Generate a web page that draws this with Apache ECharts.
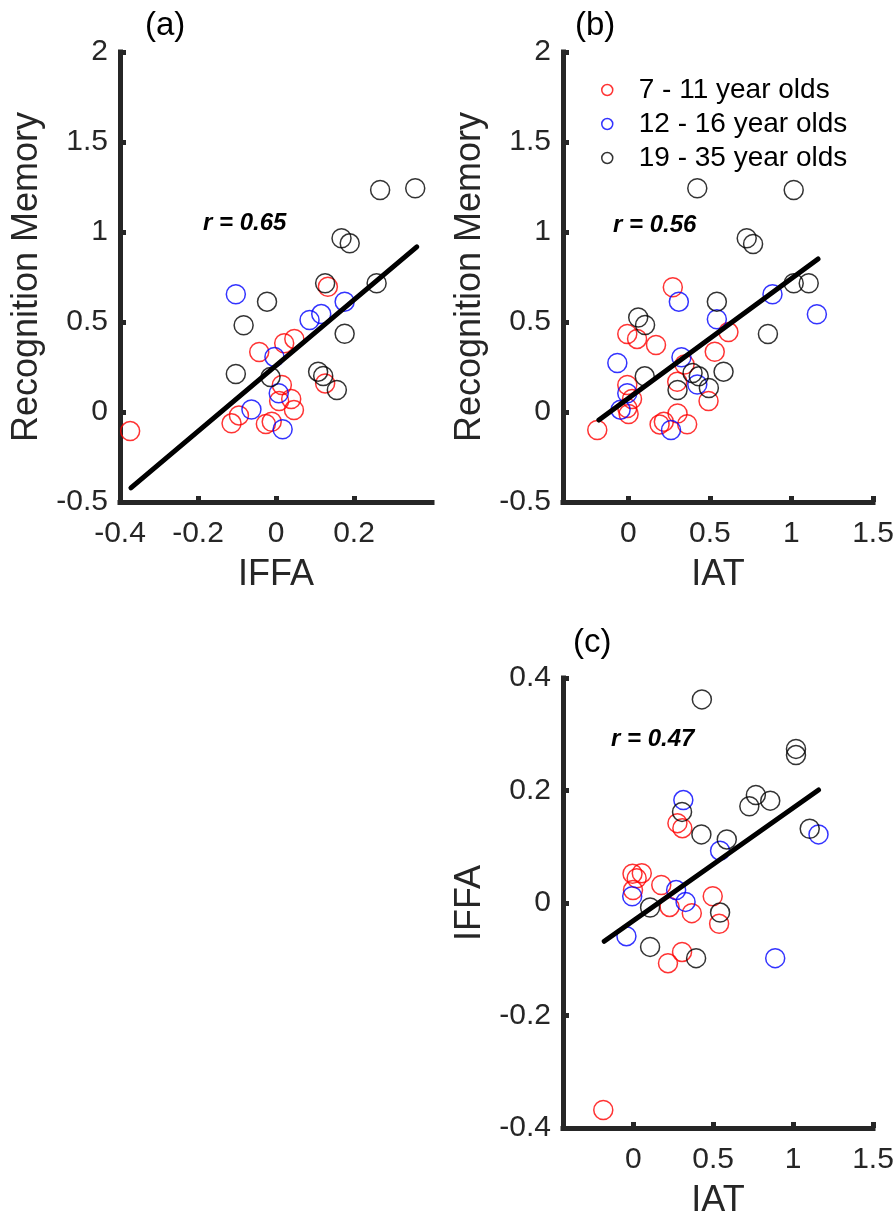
<!DOCTYPE html>
<html>
<head>
<meta charset="utf-8">
<title>Recognition memory vs IFFA / IAT</title>
<script src="https://cdn.jsdelivr.net/npm/echarts@6/dist/echarts.min.js"></script>
<style>
  html, body { margin: 0; padding: 0; background: #fff; }
  #main { width: 895px; height: 1214px; }
</style>
</head>
<body>
<div id="main"></div>
<script>
// 各年龄组的数据点 [x, y]
// (a) IFFA - Recognition Memory
var redA = [[-0.374,-0.106],[-0.114,-0.063],[-0.095,-0.019],[-0.043,0.333],[-0.026,-0.067],[-0.011,-0.054],[0.015,0.150],[0.008,0.061],[0.039,0.072],[0.046,0.011],[0.021,0.382],[0.047,0.406],[0.133,0.696],[0.126,0.159]]
var blueA = [[-0.103,0.654],[0.086,0.511],[0.116,0.544],[0.176,0.613],[-0.004,0.306],[0.007,0.104],[-0.063,0.014],[0.017,-0.096]]
var blackA = [[0.267,1.233],[0.357,1.243],[0.168,0.965],[0.189,0.937],[0.126,0.715],[0.258,0.715],[-0.023,0.613],[-0.083,0.482],[0.176,0.435],[-0.103,0.211],[-0.014,0.194],[0.108,0.224],[0.121,0.200],[0.156,0.122]]
var fitA = [[-0.372,-0.422],[0.361,0.917]]

// (b) IAT - Recognition Memory
var redB = [[0.273,0.693],[-0.006,0.433],[0.054,0.406],[0.170,0.372],[0.614,0.444],[0.530,0.335],[0.345,0.264],[0.300,0.168],[-0.006,0.150],[0.023,0.072],[-0.006,0.022],[0.002,-0.011],[0.492,0.061],[-0.190,-0.100],[0.218,-0.054],[0.192,-0.069],[0.302,-0.008],[0.361,-0.068]]
var blueB = [[-0.067,0.272],[0.310,0.613],[0.543,0.515],[0.326,0.304],[-0.006,0.104],[-0.047,0.013],[0.423,0.153],[0.262,-0.100],[0.884,0.654],[1.156,0.543]]
var blackB = [[0.423,1.243],[1.014,1.233],[0.726,0.965],[0.765,0.933],[1.014,0.715],[1.106,0.715],[0.543,0.613],[0.061,0.525],[0.103,0.483],[0.101,0.198],[0.394,0.217],[0.432,0.198],[0.584,0.224],[0.302,0.122],[0.494,0.133],[0.856,0.433]]
var fitB = [[-0.180,-0.045],[1.163,0.850]]

// (c) IAT - IFFA
var redC = [[0.276,0.142],[0.307,0.133],[-0.005,0.052],[0.053,0.053],[0.021,0.044],[-0.002,0.023],[0.175,0.032],[0.227,-0.007],[0.366,-0.018],[0.497,0.012],[0.537,-0.037],[0.305,-0.087],[0.217,-0.107],[-0.188,-0.368]]
var blueC = [[0.313,0.183],[0.543,0.093],[1.159,0.122],[-0.007,0.012],[0.268,0.023],[0.327,0.002],[-0.043,-0.059],[0.888,-0.098]]
var blackC = [[0.429,0.362],[1.018,0.274],[1.018,0.263],[0.767,0.192],[0.726,0.172],[0.857,0.182],[0.305,0.162],[0.426,0.122],[0.585,0.113],[1.104,0.132],[0.105,-0.008],[0.543,-0.017],[0.105,-0.078],[0.393,-0.098]]
var fitC = [[-0.182,-0.068],[1.159,0.201]]

var groupNames = ['7 - 11 year olds', '12 - 16 year olds', '19 - 35 year olds']
var groupColors = ['#ff0000', '#0000ff', '#000000']
var rLabels = ['r = 0.65', 'r = 0.56', 'r = 0.47']
var iffaTicks = [-0.4, -0.2, 0, 0.2]
var iatTicks = [0, 0.5, 1, 1.5]

var font = 'Liberation Sans, Arial, Helvetica, sans-serif'
var axisColor = '#262626'

function axisStyle(name, gap, labelMargin) {
    return {
        type: 'value',
        name: name,
        nameLocation: 'middle',
        nameGap: gap,
        nameTextStyle: { fontFamily: font, fontSize: 36, color: axisColor },
        axisLine: { show: true, onZero: false, lineStyle: { color: axisColor, width: 5, cap: 'square' } },
        axisTick: { show: true, inside: true, length: 6, lineStyle: { color: axisColor, width: 5 } },
        axisLabel: { fontFamily: font, fontSize: 30, color: axisColor, margin: labelMargin },
        splitLine: { show: false }
    }
}

function xAxisOf(gridIndex, name, min, max, ticks) {
    var ax = axisStyle(name, 55, 17)
    ax.gridIndex = gridIndex
    ax.min = min
    ax.max = max
    ax.axisTick.customValues = ticks
    ax.axisLabel.customValues = ticks
    return ax
}

function yAxisOf(gridIndex, name, min, max, step) {
    var ax = axisStyle(name, 75, 12)
    ax.gridIndex = gridIndex
    ax.min = min
    ax.max = max
    ax.interval = step
    return ax
}

var series = []
function addPanel(idx, groups, fit) {
    for (var i = 0; i < groups.length; i++) {
        series.push({
            type: 'scatter',
            name: groupNames[i],
            xAxisIndex: idx,
            yAxisIndex: idx,
            data: groups[i],
            symbol: 'circle',
            symbolSize: 19,
            itemStyle: { color: 'rgba(0,0,0,0)', borderColor: groupColors[i], borderWidth: 1.5 },
            emphasis: { disabled: true },
            z: 2
        })
    }
    // 回归直线
    series.push({
        type: 'line',
        xAxisIndex: idx,
        yAxisIndex: idx,
        data: fit,
        symbol: 'none',
        silent: true,
        lineStyle: { color: '#000', width: 5, cap: 'round' },
        z: 3
    })
}
addPanel(0, [redA, blueA, blackA], fitA)
addPanel(1, [redB, blueB, blackB], fitB)
addPanel(2, [redC, blueC, blackC], fitC)

var legendData = []
for (var i = 0; i < groupNames.length; i++) {
    legendData.push({
        name: groupNames[i],
        icon: 'circle',
        itemStyle: { color: 'rgba(0,0,0,0)', borderColor: groupColors[i], borderWidth: 1.5 }
    })
}

function panelTitle(text, left, top, sub) {
    return {
        text: text,
        left: left,
        top: top,
        padding: 0,
        textStyle: sub
            ? { fontFamily: font, fontSize: 24, fontWeight: 'bold', fontStyle: 'italic', color: '#000' }
            : { fontFamily: font, fontSize: 33, fontWeight: 'normal', color: '#000' }
    }
}

var myChart = echarts.init(document.getElementById('main'), null, { renderer: 'canvas' })
var option = {
    animation: false,
    backgroundColor: '#fff',
    title: [
        panelTitle('(a)', 145, 9, false),
        panelTitle('(b)', 575, 9, false),
        panelTitle('(c)', 573, 626, false),
        panelTitle(rLabels[0], 203, 211, true),
        panelTitle(rLabels[1], 613, 213, true),
        panelTitle(rLabels[2], 611, 727, true)
    ],
    legend: {
        orient: 'vertical',
        left: 601,
        top: 76,
        itemWidth: 11,
        itemHeight: 11,
        itemGap: 6,
        padding: 0,
        selectedMode: false,
        textStyle: { fontFamily: font, fontSize: 28, color: '#000', lineHeight: 28, padding: [0, 0, 0, 21] },
        data: legendData
    },
    grid: [
        { left: 120, top: 52, width: 312, height: 450, outerBoundsMode: 'none' },
        { left: 563, top: 52, width: 310, height: 450, outerBoundsMode: 'none' },
        { left: 563, top: 678, width: 310, height: 450, outerBoundsMode: 'none' }
    ],
    xAxis: [
        xAxisOf(0, 'IFFA', -0.4, 0.4, iffaTicks),
        xAxisOf(1, 'IAT', -0.4, 1.5, iatTicks),
        xAxisOf(2, 'IAT', -0.44, 1.5, iatTicks)
    ],
    yAxis: [
        yAxisOf(0, 'Recognition Memory', -0.5, 2, 0.5),
        yAxisOf(1, 'Recognition Memory', -0.5, 2, 0.5),
        yAxisOf(2, 'IFFA', -0.4, 0.4, 0.2)
    ],
    series: series
}
myChart.setOption(option)
</script>
</body>
</html>
